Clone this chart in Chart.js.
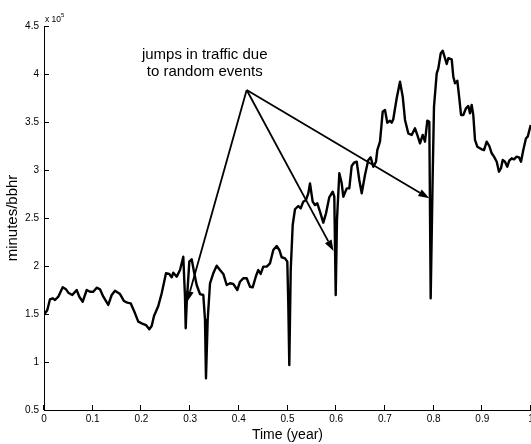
<!DOCTYPE html>
<html>
<head>
<meta charset="utf-8">
<script src="https://cdn.jsdelivr.net/npm/chart.js@4.4.1/dist/chart.umd.min.js"></script>
<style>
  html, body { margin: 0; padding: 0; background: #fff; }
  #wrap { width: 531px; height: 444px; position: relative; }
</style>
</head>
<body>
<div id="wrap"><canvas id="c"></canvas></div>
<script>
// Busy-hour traffic over one year (minutes/bbhr, in units of 10^5)
const times = [
  0.0000, 0.0068, 0.0123, 0.0179, 0.0226, 0.0294, 0.0384, 0.0452, 0.0499, 0.0581,
  0.0671, 0.0725, 0.0795, 0.0877, 0.0945, 0.1012, 0.1082, 0.1150, 0.1218, 0.1320,
  0.1390, 0.1458, 0.1561, 0.1643, 0.1710, 0.1780, 0.1869, 0.1936, 0.2006, 0.2094,
  0.2162, 0.2211, 0.2259, 0.2347, 0.2417, 0.2505, 0.2573, 0.2622, 0.2655, 0.2725,
  0.2793, 0.2860, 0.2895, 0.2910, 0.2930, 0.2984, 0.3033, 0.3080, 0.3135, 0.3203,
  0.3271, 0.3306, 0.3326, 0.3361, 0.3409, 0.3476, 0.3546, 0.3614, 0.3682, 0.3752,
  0.3819, 0.3887, 0.3969, 0.4025, 0.4092, 0.4162, 0.4230, 0.4285, 0.4353, 0.4400,
  0.4450, 0.4503, 0.4573, 0.4641, 0.4708, 0.4778, 0.4832, 0.4881, 0.4949, 0.4996,
  0.5016, 0.5037, 0.5066, 0.5107, 0.5154, 0.5222, 0.5271, 0.5324, 0.5380, 0.5427,
  0.5462, 0.5517, 0.5565, 0.5612, 0.5667, 0.5735, 0.5791, 0.5858, 0.5928, 0.5961,
  0.5990, 0.6016, 0.6064, 0.6113, 0.6146, 0.6216, 0.6269, 0.6318, 0.6366, 0.6421,
  0.6474, 0.6524, 0.6591, 0.6659, 0.6708, 0.6762, 0.6817, 0.6844, 0.6899, 0.6955,
  0.7002, 0.7049, 0.7105, 0.7140, 0.7172, 0.7242, 0.7310, 0.7366, 0.7413, 0.7480,
  0.7550, 0.7618, 0.7665, 0.7721, 0.7776, 0.7823, 0.7871, 0.7912, 0.7940, 0.7982,
  0.8008, 0.8064, 0.8097, 0.8146, 0.8187, 0.8234, 0.8269, 0.8302, 0.8372, 0.8405,
  0.8439, 0.8487, 0.8528, 0.8563, 0.8610, 0.8665, 0.8713, 0.8747, 0.8782, 0.8815,
  0.8850, 0.8897, 0.8988, 0.9035, 0.9090, 0.9144, 0.9193, 0.9240, 0.9296, 0.9343,
  0.9384, 0.9419, 0.9466, 0.9513, 0.9554, 0.9604, 0.9651, 0.9706, 0.9754, 0.9795,
  0.9842, 0.9897, 0.9932, 0.9994
];
const traffic = [
  1.490, 1.542, 1.653, 1.664, 1.646, 1.680, 1.778, 1.757, 1.722, 1.698,
  1.750, 1.680, 1.628, 1.750, 1.732, 1.732, 1.774, 1.757, 1.680, 1.594,
  1.698, 1.743, 1.708, 1.635, 1.618, 1.611, 1.507, 1.420, 1.403, 1.385,
  1.341, 1.375, 1.479, 1.583, 1.716, 1.924, 1.917, 1.882, 1.930, 1.889,
  1.958, 2.097, 1.680, 1.351, 1.611, 2.045, 2.070, 1.941, 1.802, 1.708,
  1.698, 1.438, 0.830, 1.438, 1.820, 1.924, 2.003, 1.958, 1.917, 1.802,
  1.820, 1.813, 1.750, 1.836, 1.872, 1.872, 1.784, 1.778, 1.896, 1.958,
  1.917, 1.993, 1.993, 2.028, 2.167, 2.208, 2.167, 2.091, 2.080, 2.045,
  1.611, 0.969, 1.958, 2.427, 2.591, 2.625, 2.601, 2.670, 2.688, 2.757,
  2.861, 2.670, 2.635, 2.653, 2.566, 2.451, 2.549, 2.716, 2.774, 2.722,
  1.698, 2.479, 2.966, 2.861, 2.722, 2.809, 2.809, 3.042, 3.076, 3.086,
  2.896, 2.757, 2.948, 3.104, 3.132, 3.034, 3.086, 3.208, 3.295, 3.607,
  3.625, 3.493, 3.514, 3.493, 3.528, 3.747, 3.920, 3.764, 3.521, 3.382,
  3.365, 3.434, 3.365, 3.278, 3.365, 3.295, 3.514, 3.503, 1.664, 2.966,
  3.659, 4.007, 4.059, 4.215, 4.243, 4.164, 4.104, 4.164, 4.153, 3.972,
  3.903, 3.930, 3.747, 3.573, 3.573, 3.643, 3.667, 3.591, 3.677, 3.573,
  3.313, 3.243, 3.216, 3.208, 3.295, 3.250, 3.174, 3.139, 3.086, 2.982,
  3.018, 3.104, 3.086, 3.034, 3.097, 3.122, 3.111, 3.139, 3.132, 3.086,
  3.208, 3.330, 3.347, 3.469
];

// Axis ticks
const xTickValues = [0, 0.1, 0.2, 0.3, 0.4, 0.5, 0.6, 0.7, 0.8, 0.9, 1];
const xTickLabels = ['0', '0.1', '0.2', '0.3', '0.4', '0.5', '0.6', '0.7', '0.8', '0.9', '1'];
const yTickValues = [0.5, 1, 1.5, 2, 2.5, 3, 3.5, 4, 4.5];
const yTickLabels = ['0.5', '1', '1.5', '2', '2.5', '3', '3.5', '4', '4.5'];

// Annotation: a note with arrows pointing at the traffic jumps
const noteLines = ['jumps in traffic due', 'to random events'];
const noteAnchor = [0.330, 4.198];        // centre of the first text line
const arrowFrom = [0.4162, 3.833];
const arrowTips = [[0.2936, 1.625], [0.5945, 2.156], [0.7912, 2.705]];

const FONT = "'Liberation Sans', Arial, Helvetica, sans-serif";

const points = times.map((t, i) => ({ x: t, y: traffic[i] }));

const decorations = {
  id: 'decorations',
  afterDatasetsDraw(chart) {
    const { ctx, scales: { x, y } } = chart;
    ctx.save();
    ctx.strokeStyle = '#000';
    ctx.fillStyle = '#000';
    ctx.lineWidth = 1.8;
    ctx.lineCap = 'butt';
    const ax = x.getPixelForValue(arrowFrom[0]);
    const ay = y.getPixelForValue(arrowFrom[1]);
    arrowTips.forEach(([tx, ty]) => {
      const px = x.getPixelForValue(tx), py = y.getPixelForValue(ty);
      const ang = Math.atan2(py - ay, px - ax);
      const len = 11, half = 3.8;
      const bx = px - len * Math.cos(ang), by = py - len * Math.sin(ang);
      ctx.beginPath();
      ctx.moveTo(ax, ay);
      ctx.lineTo(bx, by);
      ctx.stroke();
      ctx.beginPath();
      ctx.moveTo(px, py);
      ctx.lineTo(bx + half * Math.sin(ang), by - half * Math.cos(ang));
      ctx.lineTo(bx - half * Math.sin(ang), by + half * Math.cos(ang));
      ctx.closePath();
      ctx.fill();
    });
    ctx.font = '15px ' + FONT;
    ctx.textAlign = 'center';
    ctx.textBaseline = 'middle';
    const nx = x.getPixelForValue(noteAnchor[0]);
    const ny = y.getPixelForValue(noteAnchor[1]);
    noteLines.forEach((s, i) => ctx.fillText(s, nx, ny + i * 16.7));
    ctx.restore();
  },
  afterDraw(chart) {
    const { ctx, chartArea: a, scales: { x, y } } = chart;
    ctx.save();
    ctx.strokeStyle = '#000';
    ctx.lineWidth = 1;
    ctx.beginPath();
    xTickValues.forEach(v => {
      const px = Math.round(x.getPixelForValue(v)) - 0.5;
      ctx.moveTo(px, a.bottom);
      ctx.lineTo(px, a.bottom - 5);
    });
    yTickValues.forEach(v => {
      const py = Math.round(y.getPixelForValue(v)) + 0.5;
      ctx.moveTo(a.left, py);
      ctx.lineTo(a.left + 5, py);
    });
    ctx.stroke();
    // scale factor label
    ctx.fillStyle = '#000';
    ctx.textAlign = 'left';
    ctx.textBaseline = 'alphabetic';
    ctx.font = '8.5px ' + FONT;
    ctx.fillText('x 10', a.left + 1, a.top - 4.5);
    ctx.font = '6px ' + FONT;
    ctx.fillText('5', a.left + 17, a.top - 9);
    ctx.restore();
  }
};

new Chart(document.getElementById('c'), {
  type: 'line',
  data: {
    datasets: [{
      data: points,
      borderColor: '#000',
      borderWidth: 2.4,
      pointRadius: 0,
      tension: 0,
      borderJoinStyle: 'round',
      fill: false
    }]
  },
  options: {
    responsive: true,
    maintainAspectRatio: false,
    animation: false,
    parsing: true,
    layout: { padding: { top: 26, right: 0, left: 0, bottom: 0 } },
    plugins: { legend: { display: false }, tooltip: { enabled: false } },
    scales: {
      x: {
        type: 'linear',
        min: 0,
        max: 1,
        grid: { display: false, drawTicks: false },
        border: { display: true, color: '#000', width: 1 },
        afterBuildTicks: s => { s.ticks = xTickValues.map(v => ({ value: v })); },
        ticks: {
          color: '#000',
          font: { family: FONT, size: 10 },
          padding: 3,
          maxRotation: 0,
          autoSkip: false,
          callback: (v, i) => xTickLabels[i]
        },
        title: {
          display: true,
          text: 'Time (year)',
          color: '#000',
          font: { family: FONT, size: 14, lineHeight: 1.2 },
          padding: { top: 0, bottom: 0.6 }
        },
        afterFit: s => { s.height = 34; s.paddingLeft = 0; s.paddingRight = 0; }
      },
      y: {
        type: 'linear',
        min: 0.5,
        max: 4.5,
        grid: { display: false, drawTicks: false },
        border: { display: true, color: '#000', width: 1 },
        afterBuildTicks: s => { s.ticks = yTickValues.map(v => ({ value: v })); },
        ticks: {
          color: '#000',
          font: { family: FONT, size: 10 },
          padding: 5,
          autoSkip: false,
          callback: (v, i) => yTickLabels[i]
        },
        title: {
          display: true,
          text: 'minutes/bbhr',
          color: '#000',
          font: { family: FONT, size: 15, lineHeight: 1.2 },
          padding: { top: 4, bottom: 0 }
        },
        afterFit: s => { s.width = 44; s.paddingTop = 0; s.paddingBottom = 0; }
      }
    }
  },
  plugins: [decorations]
});
</script>
</body>
</html>
